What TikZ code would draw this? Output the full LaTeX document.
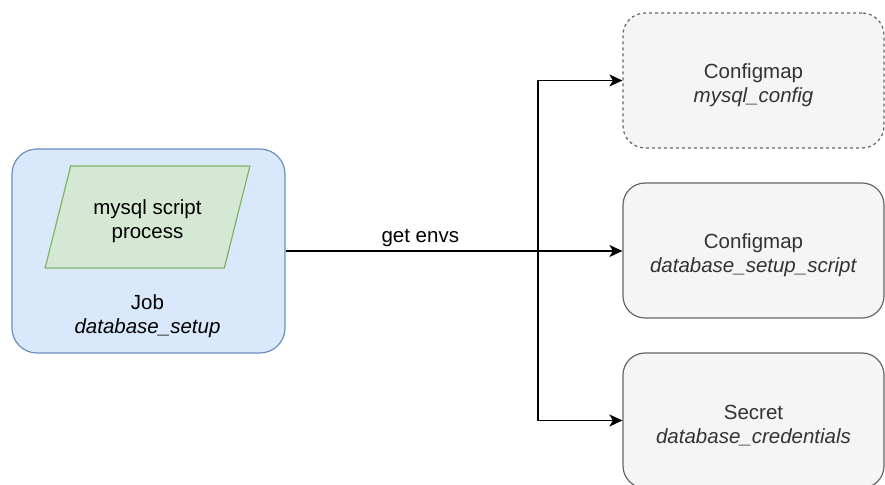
\documentclass[tikz,border=0pt]{standalone}
\usepackage{fontspec}
\setmainfont{Liberation Sans}
\usepackage{tikz}
\usetikzlibrary{positioning, shapes.geometric, arrows.meta}
\definecolor{jobfill}{HTML}{DAE8FC}
\definecolor{jobline}{HTML}{6C8EBF}
\definecolor{procfill}{HTML}{D5E8D4}
\definecolor{procline}{HTML}{82B366}
\definecolor{resfill}{HTML}{F5F5F5}
\definecolor{resline}{HTML}{666666}
\definecolor{restext}{HTML}{333333}
\newcommand{\topstrut}{\rule{0pt}{24pt}} % push text down a bit
\tikzset{
	jobbox/.style={
		draw=jobline, % blue border
		fill=jobfill,
		rectangle,
		rounded corners=25pt,
		line width=1.2pt,
		minimum width=273pt,
		minimum height=204pt
	},
	procbox/.style={
		draw=procline,
		fill=procfill,
		trapezium,
		trapezium left angle=71,
		trapezium right angle=109,
		trapezium stretches=true,
		line width=1.2pt,
		minimum width=205pt,
		minimum height=102pt,
		inner sep=0pt,
		align=center
	},
	resbox/.style n args={1}{
		draw=resline,
		fill=resfill,
		rectangle,
		rounded corners=22pt,
		line width=1.2pt,
		minimum width=261pt,
		minimum height=135pt,
		align=center,
		text=restext,
		#1
	},
	conn/.style={line width=1.4pt, -{Stealth[length=13pt, width=12pt, inset=3.5pt]}}
}

\begin{document}
\begin{tikzpicture}[x=1pt, y=1pt, font=\fontsize{20.5}{24}\selectfont]
	\useasboundingbox (0,0) rectangle (885,484);
	
	% job and the script inside it
	\node[jobbox] (job) at (148.5,233) {};
	\node[procbox] (proc) at (147.5,267) {\topstrut mysql script\\process};
	\node[align=center, below=99pt of proc.center, anchor=center] (jobtext) {Job\\\textit{database\_setup}};
	
	% resources
	\node[resbox={dashed}] (cmconf) at (753.5,403.5) {\topstrut Configmap\\\textit{mysql\_config}};
	\node[resbox={}] (cmscript) at (753.5,233.5) {\topstrut Configmap\\\textit{database\_setup\_script}};
	\node[resbox={}] (secret) at (753.5,63.5) {\topstrut Secret\\\textit{database\_credentials}};
	
	\coordinate (split) at (538,233);
	\draw[conn] (job.east) -- node[above, pos=0.4] {get envs} (cmscript.west |- job.east);
	\draw[conn] (split) |- (cmconf.west);
	\draw[conn] (split) |- (secret.west);
	
\end{tikzpicture}
\end{document}
